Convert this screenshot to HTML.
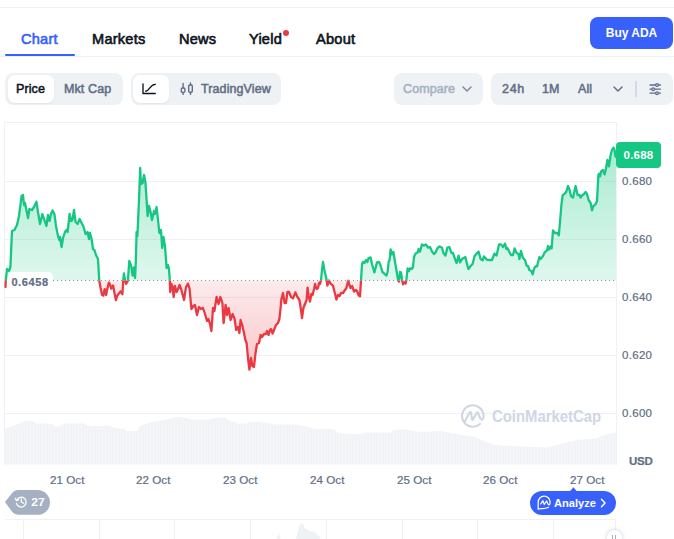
<!DOCTYPE html>
<html><head><meta charset="utf-8"><title>ADA chart</title>
<style>
html,body{margin:0;padding:0;background:#fff;}
body{width:674px;height:539px;position:relative;overflow:hidden;font-family:"Liberation Sans",sans-serif;}
.abs{position:absolute;}
.tab{position:absolute;top:30px;font-size:14.6px;font-weight:400;-webkit-text-stroke-width:0.62px;color:#0d1421;line-height:18px;white-space:nowrap;letter-spacing:0.22px;}
.pill{position:absolute;background:#eff2f5;border-radius:8px;top:73px;height:32px;}
.sel{position:absolute;background:#fff;border-radius:7px;top:75px;height:28px;box-shadow:0 1px 2px rgba(88,102,126,.10);}
.t12{position:absolute;font-size:12.5px;font-weight:400;-webkit-text-stroke-width:0.52px;line-height:14px;white-space:nowrap;color:#616e85;letter-spacing:0.1px;}
.ax{position:absolute;font-size:11.5px;line-height:14px;color:#616e85;white-space:nowrap;letter-spacing:0.3px;-webkit-text-stroke-width:0.2px;}
.dt{letter-spacing:0.05px;font-size:11.6px}
</style></head><body>
<!-- top line -->
<div class="abs" style="left:0;top:7px;width:674px;height:1px;background:#eff2f5"></div>
<!-- tabs -->
<div class="tab" style="left:21px;color:#3861fb">Chart</div>
<div class="tab" style="left:92px">Markets</div>
<div class="tab" style="left:179px">News</div>
<div class="tab" style="left:249px">Yield</div>
<div class="abs" style="left:283px;top:30px;width:6px;height:6px;border-radius:3px;background:#ea3943"></div>
<div class="tab" style="left:316px">About</div>
<div class="abs" style="left:0;top:56px;width:674px;height:1px;background:#eff2f5"></div>
<div class="abs" style="left:5px;top:54px;width:70px;height:2px;background:#3861fb;border-radius:1px"></div>
<!-- buy button -->
<div class="abs" style="left:590px;top:17px;width:83px;height:32px;border-radius:8px;background:#3861fb;color:#fff;font-weight:700;font-size:12px;line-height:32px;text-align:center;letter-spacing:0">Buy ADA</div>

<!-- row 2 -->
<div class="pill" style="left:5px;width:118px"></div>
<div class="sel" style="left:8px;width:46px"></div>
<div class="t12" style="left:16px;top:82px;color:#0d1421">Price</div>
<div class="t12" style="left:64px;top:82px">Mkt Cap</div>

<div class="pill" style="left:131px;width:150px"></div>
<div class="sel" style="left:133px;width:36px"></div>
<svg class="abs" style="left:141px;top:82px" width="18" height="14" viewBox="0 0 18 14"><path d="M2,2 V11.5 H14.3" fill="none" stroke="#0d1421" stroke-width="1.35" stroke-linecap="round" stroke-linejoin="round"/><path d="M4.7,9.2 C8.8,9.2 8.6,2.4 14.3,2.3" fill="none" stroke="#0d1421" stroke-width="1.35" stroke-linecap="round"/></svg>
<svg class="abs" style="left:180px;top:82px" width="14" height="14" viewBox="0 0 14 14"><g fill="none" stroke="#616e85" stroke-width="1.4" stroke-linecap="round"><path d="M3.1,1.4V6M3.1,10.4V12.4M10.5,1V3M10.5,10.3V12.4"/><rect x="1.3" y="6" width="3.6" height="4.4" rx="1.1"/><rect x="8.7" y="3" width="3.6" height="7.3" rx="1.1"/></g></svg>
<div class="t12" style="left:201px;top:82px">TradingView</div>

<div class="pill" style="left:394px;width:89px"></div>
<div class="t12" style="left:403px;top:82px;color:#a6b0c3">Compare</div>
<svg class="abs" style="left:461px;top:84px" width="12" height="10" viewBox="0 0 12 10"><path d="M2,3 L6,7 L10,3" fill="none" stroke="#808a9d" stroke-width="1.5" stroke-linecap="round" stroke-linejoin="round"/></svg>

<div class="pill" style="left:491px;width:182px"></div>
<div class="t12" style="left:502px;top:82px;letter-spacing:0.7px">24h</div>
<div class="t12" style="left:542px;top:82px">1M</div>
<div class="t12" style="left:578px;top:82px">All</div>
<svg class="abs" style="left:612px;top:84px" width="12" height="10" viewBox="0 0 12 10"><path d="M2,3 L6,7 L10,3" fill="none" stroke="#616e85" stroke-width="1.5" stroke-linecap="round" stroke-linejoin="round"/></svg>
<div class="abs" style="left:635px;top:81px;width:2px;height:15.5px;background:#d3d9e6"></div>
<svg class="abs" style="left:647.6px;top:82px" width="14" height="14" viewBox="0 0 14 14"><g fill="none" stroke="#616e85" stroke-width="1.3" stroke-linecap="round"><path d="M2,3H12.4M2,7.2H12.4M2,11.2H12.4"/><circle cx="9" cy="3" r="1.35" fill="#eff2f5"/><circle cx="5.2" cy="7.2" r="1.35" fill="#eff2f5"/><circle cx="9" cy="11.2" r="1.35" fill="#eff2f5"/></g></svg>

<!-- chart -->
<svg class="abs" style="left:0;top:0" width="674" height="539" viewBox="0 0 674 539">
<defs>
<linearGradient id="gg" gradientUnits="userSpaceOnUse" x1="0" y1="145" x2="0" y2="280.4"><stop offset="0" stop-color="#16c784" stop-opacity="0.37"/><stop offset="1" stop-color="#16c784" stop-opacity="0.135"/></linearGradient>
<linearGradient id="rg" gradientUnits="userSpaceOnUse" x1="0" y1="280.4" x2="0" y2="372"><stop offset="0" stop-color="#ea3943" stop-opacity="0.10"/><stop offset="1" stop-color="#ea3943" stop-opacity="0.29"/></linearGradient>
<clipPath id="up"><rect x="0" y="100" width="674" height="180.39999999999998"/></clipPath>
<clipPath id="dn"><rect x="0" y="280.4" width="674" height="200"/></clipPath>
<pattern id="vs" width="3" height="8" patternUnits="userSpaceOnUse"><rect x="0" y="0" width="1" height="8" fill="#fff" opacity="0.22"/></pattern>
</defs>
<!-- grid -->
<g stroke="#eff2f5" stroke-width="1" shape-rendering="crispEdges">
<line x1="4.5" y1="122.5" x2="617" y2="122.5"/>
<line x1="4.5" y1="181.5" x2="617" y2="181.5"/>
<line x1="4.5" y1="239.5" x2="617" y2="239.5"/>
<line x1="4.5" y1="297.5" x2="617" y2="297.5"/>
<line x1="4.5" y1="355.5" x2="617" y2="355.5"/>
<line x1="4.5" y1="413.5" x2="617" y2="413.5"/>
<line x1="4.5" y1="122" x2="4.5" y2="465"/>
<line x1="616.5" y1="122" x2="616.5" y2="465"/>
</g>
<!-- watermark -->
<g opacity="1">
<path d="M479.96,423.95 A10.7,10.7 0 1 1 483.49,416.56 C483.4,420.4 480.8,420.6 480,417.8 L478.2,413.2 Q477.6,411.6 476.6,413.2 L472.9,419.6 Q472.3,420.4 472,419.2 L471,412.6 Q470.6,411 469.6,412.6 L464.8,421.4" fill="none" stroke="#cfd6e4" stroke-width="2.1" stroke-linecap="round" stroke-linejoin="round"/>
<text x="492" y="422.3" font-family="Liberation Sans, sans-serif" font-weight="700" font-size="16.2" fill="#cfd6e4" textLength="109" lengthAdjust="spacingAndGlyphs">CoinMarketCap</text>
</g>
<!-- volume -->
<path d="M5.0,428.6 L6.0,428.4 L16.7,424.4 L25.0,421.0 L33.4,421.0 L35.0,423.4 L50.0,423.4 L56.7,426.7 L60.0,425.7 L65.0,423.4 L83.4,423.4 L88.4,426.0 L103.5,426.0 L106.8,425.0 L115.0,427.7 L125.0,429.4 L126.8,431.0 L136.8,431.0 L140.0,426.0 L150.0,422.4 L160.0,420.7 L170.0,418.4 L178.6,416.7 L185.0,417.7 L192.0,419.4 L207.0,419.4 L217.0,417.7 L225.0,417.7 L230.0,420.7 L238.4,423.4 L246.7,423.4 L250.0,421.7 L258.4,421.7 L265.0,422.7 L276.7,424.4 L296.8,424.4 L301.8,426.0 L308.5,426.7 L315.0,429.0 L333.5,429.0 L338.5,432.4 L346.8,434.0 L361.9,434.0 L365.2,432.4 L390.2,432.4 L393.6,430.0 L406.9,429.4 L413.6,431.0 L417.0,431.7 L430.0,431.7 L440.0,431.0 L448.4,432.4 L458.4,434.4 L475.0,436.7 L483.4,441.0 L493.4,444.4 L503.4,445.7 L546.8,447.4 L556.8,445.0 L566.8,442.4 L576.9,440.0 L596.9,438.4 L603.6,435.0 L615.2,432.4 L616.5,432.2 L616.5,464.5 L5,464.5 Z" fill="#eff2f5" opacity="0.9"/>
<path d="M5.0,428.6 L6.0,428.4 L16.7,424.4 L25.0,421.0 L33.4,421.0 L35.0,423.4 L50.0,423.4 L56.7,426.7 L60.0,425.7 L65.0,423.4 L83.4,423.4 L88.4,426.0 L103.5,426.0 L106.8,425.0 L115.0,427.7 L125.0,429.4 L126.8,431.0 L136.8,431.0 L140.0,426.0 L150.0,422.4 L160.0,420.7 L170.0,418.4 L178.6,416.7 L185.0,417.7 L192.0,419.4 L207.0,419.4 L217.0,417.7 L225.0,417.7 L230.0,420.7 L238.4,423.4 L246.7,423.4 L250.0,421.7 L258.4,421.7 L265.0,422.7 L276.7,424.4 L296.8,424.4 L301.8,426.0 L308.5,426.7 L315.0,429.0 L333.5,429.0 L338.5,432.4 L346.8,434.0 L361.9,434.0 L365.2,432.4 L390.2,432.4 L393.6,430.0 L406.9,429.4 L413.6,431.0 L417.0,431.7 L430.0,431.7 L440.0,431.0 L448.4,432.4 L458.4,434.4 L475.0,436.7 L483.4,441.0 L493.4,444.4 L503.4,445.7 L546.8,447.4 L556.8,445.0 L566.8,442.4 L576.9,440.0 L596.9,438.4 L603.6,435.0 L615.2,432.4 L616.5,432.2 L616.5,464.5 L5,464.5 Z" fill="url(#vs)"/>
<!-- area fills -->
<path d="M5.5,287.0 L5.8,280.0 L7.0,269.0 L9.0,271.0 L10.4,267.0 L12.0,231.0 L14.4,230.0 L17.0,225.0 L19.0,216.0 L21.6,196.0 L23.0,195.0 L24.0,205.0 L25.0,203.0 L28.0,218.0 L29.4,209.0 L32.0,210.0 L34.0,207.0 L36.4,201.6 L38.0,212.0 L40.0,224.0 L42.4,214.0 L44.4,220.0 L46.4,226.0 L48.0,215.0 L49.6,221.0 L51.0,214.0 L52.6,210.4 L54.4,214.0 L56.0,226.0 L58.0,236.0 L59.4,240.0 L60.0,237.0 L61.6,247.0 L63.0,238.0 L65.0,232.0 L66.4,230.0 L67.6,232.0 L69.6,214.0 L71.0,221.0 L72.4,220.0 L74.0,210.0 L75.6,222.0 L77.6,224.0 L79.6,219.0 L81.6,223.0 L83.6,227.0 L85.6,234.0 L87.6,232.0 L89.0,239.0 L90.0,233.0 L91.6,239.0 L93.0,249.0 L94.4,250.0 L96.0,255.0 L98.0,259.0 L99.2,280.3 L100.6,288.0 L102.0,294.7 L103.3,295.6 L104.7,289.1 L106.1,295.1 L107.5,288.0 L108.9,282.6 L110.0,284.5 L111.2,288.6 L113.1,285.4 L114.5,293.0 L115.9,300.2 L117.3,295.6 L119.6,292.8 L120.5,291.4 L122.4,294.2 L122.9,286.0 L123.3,280.3 L123.9,273.3 L125.1,280.3 L126.1,284.0 L127.9,280.8 L129.3,260.8 L131.2,265.9 L132.6,275.7 L134.0,267.3 L135.1,278.0 L135.8,262.0 L136.6,232.0 L137.4,236.0 L139.0,200.0 L140.2,168.0 L141.0,184.0 L142.6,183.0 L144.0,175.0 L145.4,182.0 L146.6,200.0 L147.6,216.0 L149.0,206.0 L150.6,212.0 L152.0,220.0 L154.0,211.0 L155.0,214.0 L156.6,207.0 L158.0,220.0 L159.4,233.0 L161.0,230.0 L162.2,248.0 L163.4,237.0 L165.0,246.0 L166.6,268.0 L168.0,265.0 L169.0,269.0 L169.8,280.4 L170.2,292.0 L171.4,284.0 L172.6,287.0 L173.6,297.0 L175.0,286.0 L176.6,292.0 L178.0,289.0 L179.6,285.0 L181.4,290.0 L184.0,300.0 L186.0,287.0 L188.0,283.6 L189.6,289.0 L191.4,309.0 L193.4,306.0 L195.0,305.0 L197.0,315.0 L199.0,307.0 L201.0,309.0 L203.0,308.0 L205.0,314.0 L207.0,321.0 L208.4,319.0 L210.0,324.0 L211.4,331.0 L213.0,308.0 L214.4,311.0 L216.6,297.0 L218.6,304.0 L220.4,297.0 L222.4,303.0 L223.6,323.0 L225.6,305.0 L227.0,315.0 L228.6,308.0 L230.6,320.0 L232.6,314.0 L234.6,319.0 L236.2,330.0 L238.0,327.0 L239.4,333.0 L240.6,320.0 L242.2,325.0 L244.0,333.0 L245.4,340.0 L246.6,343.0 L248.0,358.0 L249.4,369.6 L251.0,358.0 L252.4,366.0 L254.0,367.0 L255.4,354.0 L257.0,344.0 L259.0,343.0 L260.6,335.0 L262.0,337.0 L264.0,334.0 L266.0,334.0 L267.0,331.0 L268.6,335.0 L270.0,330.0 L271.0,329.0 L272.6,333.6 L274.0,330.0 L276.0,325.0 L278.0,323.0 L279.4,319.0 L280.6,308.0 L281.4,299.0 L283.0,293.0 L284.6,303.0 L286.0,303.0 L287.4,292.0 L289.0,292.0 L291.0,297.0 L293.0,298.4 L295.4,292.4 L297.4,297.0 L299.4,300.0 L301.0,310.0 L302.0,318.0 L303.4,308.0 L305.4,303.0 L306.6,300.0 L307.6,287.6 L308.6,296.0 L310.0,301.6 L311.4,294.0 L312.6,295.0 L314.0,289.0 L315.0,284.0 L316.6,289.0 L318.0,288.0 L319.0,283.0 L320.0,284.0 L321.0,280.0 L322.0,270.0 L323.0,262.0 L324.4,270.0 L326.6,280.0 L327.4,285.6 L328.8,280.4 L330.6,283.6 L333.0,285.6 L334.6,292.0 L336.4,299.5 L338.0,295.0 L339.6,296.0 L341.0,293.0 L343.0,293.0 L345.0,290.0 L346.4,288.0 L348.2,280.6 L349.4,285.0 L350.6,288.0 L352.2,286.0 L354.0,291.6 L355.6,290.0 L357.0,291.0 L358.6,295.4 L360.0,296.4 L361.0,280.4 L362.0,264.0 L363.0,262.0 L364.4,263.0 L366.0,260.0 L367.4,262.0 L368.6,258.0 L370.6,257.4 L372.0,264.0 L374.4,272.4 L377.0,262.4 L379.0,262.0 L380.4,265.0 L382.4,272.0 L384.4,273.6 L386.4,275.6 L387.6,272.0 L388.6,262.0 L389.6,260.0 L390.6,249.4 L392.0,254.4 L393.4,252.0 L395.0,262.0 L396.6,271.0 L398.0,280.0 L399.0,281.6 L400.0,272.0 L401.0,272.4 L402.0,279.0 L403.0,284.4 L404.4,282.4 L405.6,283.6 L406.4,280.0 L407.6,268.4 L409.0,271.0 L410.0,268.4 L411.6,269.0 L413.0,267.0 L414.0,257.0 L415.6,253.6 L417.6,252.4 L418.6,249.0 L420.0,251.6 L422.0,244.4 L424.0,245.6 L426.0,244.4 L428.0,247.6 L430.0,247.0 L432.0,251.6 L434.0,254.0 L435.6,252.4 L437.6,248.0 L439.6,246.4 L442.0,247.8 L443.4,253.0 L445.4,255.6 L447.4,247.6 L449.4,247.0 L451.4,253.0 L453.0,253.0 L455.0,259.0 L456.6,263.0 L458.6,255.6 L460.0,262.4 L462.0,259.0 L465.4,257.0 L467.0,264.0 L468.4,269.0 L470.6,266.0 L472.6,264.0 L474.6,256.0 L476.6,253.6 L478.6,251.6 L480.6,259.0 L482.6,260.4 L484.0,256.4 L486.6,259.6 L489.4,260.0 L492.0,260.0 L494.4,253.6 L496.6,255.6 L499.0,244.4 L501.0,244.4 L503.0,247.0 L505.0,243.6 L506.4,249.0 L507.4,248.0 L509.4,252.0 L511.0,255.0 L513.0,255.0 L514.6,248.4 L516.6,253.0 L518.6,254.0 L519.4,259.0 L521.0,251.0 L523.0,258.0 L525.0,260.0 L526.6,265.6 L528.0,266.0 L529.4,270.0 L531.4,271.0 L532.6,274.4 L534.4,268.0 L535.4,266.4 L537.0,266.4 L539.4,257.0 L540.6,259.0 L543.0,256.0 L544.6,252.4 L547.0,250.4 L548.0,246.0 L549.0,249.6 L550.6,246.4 L551.6,248.4 L553.0,230.4 L555.0,233.0 L557.4,233.0 L558.8,235.4 L560.0,222.0 L561.4,205.0 L562.6,195.4 L566.0,192.4 L568.0,186.0 L569.6,190.0 L571.0,196.0 L573.0,197.6 L575.6,186.0 L577.6,195.0 L579.6,195.0 L580.6,197.6 L582.0,195.6 L584.0,194.0 L585.6,192.0 L587.0,194.0 L588.6,200.0 L590.6,203.0 L592.0,210.4 L593.4,206.0 L595.4,204.4 L597.0,201.0 L598.4,175.0 L599.0,173.6 L600.0,176.4 L601.4,171.0 L603.0,170.0 L604.6,174.4 L606.0,168.4 L607.4,160.0 L609.0,166.4 L610.6,155.0 L612.0,150.0 L613.4,147.6 L614.6,150.0 L615.4,156.0 L616.0,157.0 L616,280.4 L5.5,280.4 Z" fill="url(#gg)" clip-path="url(#up)"/>
<path d="M5.5,287.0 L5.8,280.0 L7.0,269.0 L9.0,271.0 L10.4,267.0 L12.0,231.0 L14.4,230.0 L17.0,225.0 L19.0,216.0 L21.6,196.0 L23.0,195.0 L24.0,205.0 L25.0,203.0 L28.0,218.0 L29.4,209.0 L32.0,210.0 L34.0,207.0 L36.4,201.6 L38.0,212.0 L40.0,224.0 L42.4,214.0 L44.4,220.0 L46.4,226.0 L48.0,215.0 L49.6,221.0 L51.0,214.0 L52.6,210.4 L54.4,214.0 L56.0,226.0 L58.0,236.0 L59.4,240.0 L60.0,237.0 L61.6,247.0 L63.0,238.0 L65.0,232.0 L66.4,230.0 L67.6,232.0 L69.6,214.0 L71.0,221.0 L72.4,220.0 L74.0,210.0 L75.6,222.0 L77.6,224.0 L79.6,219.0 L81.6,223.0 L83.6,227.0 L85.6,234.0 L87.6,232.0 L89.0,239.0 L90.0,233.0 L91.6,239.0 L93.0,249.0 L94.4,250.0 L96.0,255.0 L98.0,259.0 L99.2,280.3 L100.6,288.0 L102.0,294.7 L103.3,295.6 L104.7,289.1 L106.1,295.1 L107.5,288.0 L108.9,282.6 L110.0,284.5 L111.2,288.6 L113.1,285.4 L114.5,293.0 L115.9,300.2 L117.3,295.6 L119.6,292.8 L120.5,291.4 L122.4,294.2 L122.9,286.0 L123.3,280.3 L123.9,273.3 L125.1,280.3 L126.1,284.0 L127.9,280.8 L129.3,260.8 L131.2,265.9 L132.6,275.7 L134.0,267.3 L135.1,278.0 L135.8,262.0 L136.6,232.0 L137.4,236.0 L139.0,200.0 L140.2,168.0 L141.0,184.0 L142.6,183.0 L144.0,175.0 L145.4,182.0 L146.6,200.0 L147.6,216.0 L149.0,206.0 L150.6,212.0 L152.0,220.0 L154.0,211.0 L155.0,214.0 L156.6,207.0 L158.0,220.0 L159.4,233.0 L161.0,230.0 L162.2,248.0 L163.4,237.0 L165.0,246.0 L166.6,268.0 L168.0,265.0 L169.0,269.0 L169.8,280.4 L170.2,292.0 L171.4,284.0 L172.6,287.0 L173.6,297.0 L175.0,286.0 L176.6,292.0 L178.0,289.0 L179.6,285.0 L181.4,290.0 L184.0,300.0 L186.0,287.0 L188.0,283.6 L189.6,289.0 L191.4,309.0 L193.4,306.0 L195.0,305.0 L197.0,315.0 L199.0,307.0 L201.0,309.0 L203.0,308.0 L205.0,314.0 L207.0,321.0 L208.4,319.0 L210.0,324.0 L211.4,331.0 L213.0,308.0 L214.4,311.0 L216.6,297.0 L218.6,304.0 L220.4,297.0 L222.4,303.0 L223.6,323.0 L225.6,305.0 L227.0,315.0 L228.6,308.0 L230.6,320.0 L232.6,314.0 L234.6,319.0 L236.2,330.0 L238.0,327.0 L239.4,333.0 L240.6,320.0 L242.2,325.0 L244.0,333.0 L245.4,340.0 L246.6,343.0 L248.0,358.0 L249.4,369.6 L251.0,358.0 L252.4,366.0 L254.0,367.0 L255.4,354.0 L257.0,344.0 L259.0,343.0 L260.6,335.0 L262.0,337.0 L264.0,334.0 L266.0,334.0 L267.0,331.0 L268.6,335.0 L270.0,330.0 L271.0,329.0 L272.6,333.6 L274.0,330.0 L276.0,325.0 L278.0,323.0 L279.4,319.0 L280.6,308.0 L281.4,299.0 L283.0,293.0 L284.6,303.0 L286.0,303.0 L287.4,292.0 L289.0,292.0 L291.0,297.0 L293.0,298.4 L295.4,292.4 L297.4,297.0 L299.4,300.0 L301.0,310.0 L302.0,318.0 L303.4,308.0 L305.4,303.0 L306.6,300.0 L307.6,287.6 L308.6,296.0 L310.0,301.6 L311.4,294.0 L312.6,295.0 L314.0,289.0 L315.0,284.0 L316.6,289.0 L318.0,288.0 L319.0,283.0 L320.0,284.0 L321.0,280.0 L322.0,270.0 L323.0,262.0 L324.4,270.0 L326.6,280.0 L327.4,285.6 L328.8,280.4 L330.6,283.6 L333.0,285.6 L334.6,292.0 L336.4,299.5 L338.0,295.0 L339.6,296.0 L341.0,293.0 L343.0,293.0 L345.0,290.0 L346.4,288.0 L348.2,280.6 L349.4,285.0 L350.6,288.0 L352.2,286.0 L354.0,291.6 L355.6,290.0 L357.0,291.0 L358.6,295.4 L360.0,296.4 L361.0,280.4 L362.0,264.0 L363.0,262.0 L364.4,263.0 L366.0,260.0 L367.4,262.0 L368.6,258.0 L370.6,257.4 L372.0,264.0 L374.4,272.4 L377.0,262.4 L379.0,262.0 L380.4,265.0 L382.4,272.0 L384.4,273.6 L386.4,275.6 L387.6,272.0 L388.6,262.0 L389.6,260.0 L390.6,249.4 L392.0,254.4 L393.4,252.0 L395.0,262.0 L396.6,271.0 L398.0,280.0 L399.0,281.6 L400.0,272.0 L401.0,272.4 L402.0,279.0 L403.0,284.4 L404.4,282.4 L405.6,283.6 L406.4,280.0 L407.6,268.4 L409.0,271.0 L410.0,268.4 L411.6,269.0 L413.0,267.0 L414.0,257.0 L415.6,253.6 L417.6,252.4 L418.6,249.0 L420.0,251.6 L422.0,244.4 L424.0,245.6 L426.0,244.4 L428.0,247.6 L430.0,247.0 L432.0,251.6 L434.0,254.0 L435.6,252.4 L437.6,248.0 L439.6,246.4 L442.0,247.8 L443.4,253.0 L445.4,255.6 L447.4,247.6 L449.4,247.0 L451.4,253.0 L453.0,253.0 L455.0,259.0 L456.6,263.0 L458.6,255.6 L460.0,262.4 L462.0,259.0 L465.4,257.0 L467.0,264.0 L468.4,269.0 L470.6,266.0 L472.6,264.0 L474.6,256.0 L476.6,253.6 L478.6,251.6 L480.6,259.0 L482.6,260.4 L484.0,256.4 L486.6,259.6 L489.4,260.0 L492.0,260.0 L494.4,253.6 L496.6,255.6 L499.0,244.4 L501.0,244.4 L503.0,247.0 L505.0,243.6 L506.4,249.0 L507.4,248.0 L509.4,252.0 L511.0,255.0 L513.0,255.0 L514.6,248.4 L516.6,253.0 L518.6,254.0 L519.4,259.0 L521.0,251.0 L523.0,258.0 L525.0,260.0 L526.6,265.6 L528.0,266.0 L529.4,270.0 L531.4,271.0 L532.6,274.4 L534.4,268.0 L535.4,266.4 L537.0,266.4 L539.4,257.0 L540.6,259.0 L543.0,256.0 L544.6,252.4 L547.0,250.4 L548.0,246.0 L549.0,249.6 L550.6,246.4 L551.6,248.4 L553.0,230.4 L555.0,233.0 L557.4,233.0 L558.8,235.4 L560.0,222.0 L561.4,205.0 L562.6,195.4 L566.0,192.4 L568.0,186.0 L569.6,190.0 L571.0,196.0 L573.0,197.6 L575.6,186.0 L577.6,195.0 L579.6,195.0 L580.6,197.6 L582.0,195.6 L584.0,194.0 L585.6,192.0 L587.0,194.0 L588.6,200.0 L590.6,203.0 L592.0,210.4 L593.4,206.0 L595.4,204.4 L597.0,201.0 L598.4,175.0 L599.0,173.6 L600.0,176.4 L601.4,171.0 L603.0,170.0 L604.6,174.4 L606.0,168.4 L607.4,160.0 L609.0,166.4 L610.6,155.0 L612.0,150.0 L613.4,147.6 L614.6,150.0 L615.4,156.0 L616.0,157.0 L616,280.4 L5.5,280.4 Z" fill="url(#rg)" clip-path="url(#dn)"/>
<!-- baseline dotted -->
<line x1="5" y1="280.4" x2="617" y2="280.4" stroke="#808a9d" stroke-width="1" stroke-dasharray="1 3"/>
<!-- line -->
<path d="M5.5,287.0 L5.8,280.0 L7.0,269.0 L9.0,271.0 L10.4,267.0 L12.0,231.0 L14.4,230.0 L17.0,225.0 L19.0,216.0 L21.6,196.0 L23.0,195.0 L24.0,205.0 L25.0,203.0 L28.0,218.0 L29.4,209.0 L32.0,210.0 L34.0,207.0 L36.4,201.6 L38.0,212.0 L40.0,224.0 L42.4,214.0 L44.4,220.0 L46.4,226.0 L48.0,215.0 L49.6,221.0 L51.0,214.0 L52.6,210.4 L54.4,214.0 L56.0,226.0 L58.0,236.0 L59.4,240.0 L60.0,237.0 L61.6,247.0 L63.0,238.0 L65.0,232.0 L66.4,230.0 L67.6,232.0 L69.6,214.0 L71.0,221.0 L72.4,220.0 L74.0,210.0 L75.6,222.0 L77.6,224.0 L79.6,219.0 L81.6,223.0 L83.6,227.0 L85.6,234.0 L87.6,232.0 L89.0,239.0 L90.0,233.0 L91.6,239.0 L93.0,249.0 L94.4,250.0 L96.0,255.0 L98.0,259.0 L99.2,280.3 L100.6,288.0 L102.0,294.7 L103.3,295.6 L104.7,289.1 L106.1,295.1 L107.5,288.0 L108.9,282.6 L110.0,284.5 L111.2,288.6 L113.1,285.4 L114.5,293.0 L115.9,300.2 L117.3,295.6 L119.6,292.8 L120.5,291.4 L122.4,294.2 L122.9,286.0 L123.3,280.3 L123.9,273.3 L125.1,280.3 L126.1,284.0 L127.9,280.8 L129.3,260.8 L131.2,265.9 L132.6,275.7 L134.0,267.3 L135.1,278.0 L135.8,262.0 L136.6,232.0 L137.4,236.0 L139.0,200.0 L140.2,168.0 L141.0,184.0 L142.6,183.0 L144.0,175.0 L145.4,182.0 L146.6,200.0 L147.6,216.0 L149.0,206.0 L150.6,212.0 L152.0,220.0 L154.0,211.0 L155.0,214.0 L156.6,207.0 L158.0,220.0 L159.4,233.0 L161.0,230.0 L162.2,248.0 L163.4,237.0 L165.0,246.0 L166.6,268.0 L168.0,265.0 L169.0,269.0 L169.8,280.4 L170.2,292.0 L171.4,284.0 L172.6,287.0 L173.6,297.0 L175.0,286.0 L176.6,292.0 L178.0,289.0 L179.6,285.0 L181.4,290.0 L184.0,300.0 L186.0,287.0 L188.0,283.6 L189.6,289.0 L191.4,309.0 L193.4,306.0 L195.0,305.0 L197.0,315.0 L199.0,307.0 L201.0,309.0 L203.0,308.0 L205.0,314.0 L207.0,321.0 L208.4,319.0 L210.0,324.0 L211.4,331.0 L213.0,308.0 L214.4,311.0 L216.6,297.0 L218.6,304.0 L220.4,297.0 L222.4,303.0 L223.6,323.0 L225.6,305.0 L227.0,315.0 L228.6,308.0 L230.6,320.0 L232.6,314.0 L234.6,319.0 L236.2,330.0 L238.0,327.0 L239.4,333.0 L240.6,320.0 L242.2,325.0 L244.0,333.0 L245.4,340.0 L246.6,343.0 L248.0,358.0 L249.4,369.6 L251.0,358.0 L252.4,366.0 L254.0,367.0 L255.4,354.0 L257.0,344.0 L259.0,343.0 L260.6,335.0 L262.0,337.0 L264.0,334.0 L266.0,334.0 L267.0,331.0 L268.6,335.0 L270.0,330.0 L271.0,329.0 L272.6,333.6 L274.0,330.0 L276.0,325.0 L278.0,323.0 L279.4,319.0 L280.6,308.0 L281.4,299.0 L283.0,293.0 L284.6,303.0 L286.0,303.0 L287.4,292.0 L289.0,292.0 L291.0,297.0 L293.0,298.4 L295.4,292.4 L297.4,297.0 L299.4,300.0 L301.0,310.0 L302.0,318.0 L303.4,308.0 L305.4,303.0 L306.6,300.0 L307.6,287.6 L308.6,296.0 L310.0,301.6 L311.4,294.0 L312.6,295.0 L314.0,289.0 L315.0,284.0 L316.6,289.0 L318.0,288.0 L319.0,283.0 L320.0,284.0 L321.0,280.0 L322.0,270.0 L323.0,262.0 L324.4,270.0 L326.6,280.0 L327.4,285.6 L328.8,280.4 L330.6,283.6 L333.0,285.6 L334.6,292.0 L336.4,299.5 L338.0,295.0 L339.6,296.0 L341.0,293.0 L343.0,293.0 L345.0,290.0 L346.4,288.0 L348.2,280.6 L349.4,285.0 L350.6,288.0 L352.2,286.0 L354.0,291.6 L355.6,290.0 L357.0,291.0 L358.6,295.4 L360.0,296.4 L361.0,280.4 L362.0,264.0 L363.0,262.0 L364.4,263.0 L366.0,260.0 L367.4,262.0 L368.6,258.0 L370.6,257.4 L372.0,264.0 L374.4,272.4 L377.0,262.4 L379.0,262.0 L380.4,265.0 L382.4,272.0 L384.4,273.6 L386.4,275.6 L387.6,272.0 L388.6,262.0 L389.6,260.0 L390.6,249.4 L392.0,254.4 L393.4,252.0 L395.0,262.0 L396.6,271.0 L398.0,280.0 L399.0,281.6 L400.0,272.0 L401.0,272.4 L402.0,279.0 L403.0,284.4 L404.4,282.4 L405.6,283.6 L406.4,280.0 L407.6,268.4 L409.0,271.0 L410.0,268.4 L411.6,269.0 L413.0,267.0 L414.0,257.0 L415.6,253.6 L417.6,252.4 L418.6,249.0 L420.0,251.6 L422.0,244.4 L424.0,245.6 L426.0,244.4 L428.0,247.6 L430.0,247.0 L432.0,251.6 L434.0,254.0 L435.6,252.4 L437.6,248.0 L439.6,246.4 L442.0,247.8 L443.4,253.0 L445.4,255.6 L447.4,247.6 L449.4,247.0 L451.4,253.0 L453.0,253.0 L455.0,259.0 L456.6,263.0 L458.6,255.6 L460.0,262.4 L462.0,259.0 L465.4,257.0 L467.0,264.0 L468.4,269.0 L470.6,266.0 L472.6,264.0 L474.6,256.0 L476.6,253.6 L478.6,251.6 L480.6,259.0 L482.6,260.4 L484.0,256.4 L486.6,259.6 L489.4,260.0 L492.0,260.0 L494.4,253.6 L496.6,255.6 L499.0,244.4 L501.0,244.4 L503.0,247.0 L505.0,243.6 L506.4,249.0 L507.4,248.0 L509.4,252.0 L511.0,255.0 L513.0,255.0 L514.6,248.4 L516.6,253.0 L518.6,254.0 L519.4,259.0 L521.0,251.0 L523.0,258.0 L525.0,260.0 L526.6,265.6 L528.0,266.0 L529.4,270.0 L531.4,271.0 L532.6,274.4 L534.4,268.0 L535.4,266.4 L537.0,266.4 L539.4,257.0 L540.6,259.0 L543.0,256.0 L544.6,252.4 L547.0,250.4 L548.0,246.0 L549.0,249.6 L550.6,246.4 L551.6,248.4 L553.0,230.4 L555.0,233.0 L557.4,233.0 L558.8,235.4 L560.0,222.0 L561.4,205.0 L562.6,195.4 L566.0,192.4 L568.0,186.0 L569.6,190.0 L571.0,196.0 L573.0,197.6 L575.6,186.0 L577.6,195.0 L579.6,195.0 L580.6,197.6 L582.0,195.6 L584.0,194.0 L585.6,192.0 L587.0,194.0 L588.6,200.0 L590.6,203.0 L592.0,210.4 L593.4,206.0 L595.4,204.4 L597.0,201.0 L598.4,175.0 L599.0,173.6 L600.0,176.4 L601.4,171.0 L603.0,170.0 L604.6,174.4 L606.0,168.4 L607.4,160.0 L609.0,166.4 L610.6,155.0 L612.0,150.0 L613.4,147.6 L614.6,150.0 L615.4,156.0 L616.0,157.0" fill="none" stroke="#16c784" stroke-width="2.3" stroke-linejoin="round" stroke-linecap="round" clip-path="url(#up)"/>
<path d="M5.5,287.0 L5.8,280.0 L7.0,269.0 L9.0,271.0 L10.4,267.0 L12.0,231.0 L14.4,230.0 L17.0,225.0 L19.0,216.0 L21.6,196.0 L23.0,195.0 L24.0,205.0 L25.0,203.0 L28.0,218.0 L29.4,209.0 L32.0,210.0 L34.0,207.0 L36.4,201.6 L38.0,212.0 L40.0,224.0 L42.4,214.0 L44.4,220.0 L46.4,226.0 L48.0,215.0 L49.6,221.0 L51.0,214.0 L52.6,210.4 L54.4,214.0 L56.0,226.0 L58.0,236.0 L59.4,240.0 L60.0,237.0 L61.6,247.0 L63.0,238.0 L65.0,232.0 L66.4,230.0 L67.6,232.0 L69.6,214.0 L71.0,221.0 L72.4,220.0 L74.0,210.0 L75.6,222.0 L77.6,224.0 L79.6,219.0 L81.6,223.0 L83.6,227.0 L85.6,234.0 L87.6,232.0 L89.0,239.0 L90.0,233.0 L91.6,239.0 L93.0,249.0 L94.4,250.0 L96.0,255.0 L98.0,259.0 L99.2,280.3 L100.6,288.0 L102.0,294.7 L103.3,295.6 L104.7,289.1 L106.1,295.1 L107.5,288.0 L108.9,282.6 L110.0,284.5 L111.2,288.6 L113.1,285.4 L114.5,293.0 L115.9,300.2 L117.3,295.6 L119.6,292.8 L120.5,291.4 L122.4,294.2 L122.9,286.0 L123.3,280.3 L123.9,273.3 L125.1,280.3 L126.1,284.0 L127.9,280.8 L129.3,260.8 L131.2,265.9 L132.6,275.7 L134.0,267.3 L135.1,278.0 L135.8,262.0 L136.6,232.0 L137.4,236.0 L139.0,200.0 L140.2,168.0 L141.0,184.0 L142.6,183.0 L144.0,175.0 L145.4,182.0 L146.6,200.0 L147.6,216.0 L149.0,206.0 L150.6,212.0 L152.0,220.0 L154.0,211.0 L155.0,214.0 L156.6,207.0 L158.0,220.0 L159.4,233.0 L161.0,230.0 L162.2,248.0 L163.4,237.0 L165.0,246.0 L166.6,268.0 L168.0,265.0 L169.0,269.0 L169.8,280.4 L170.2,292.0 L171.4,284.0 L172.6,287.0 L173.6,297.0 L175.0,286.0 L176.6,292.0 L178.0,289.0 L179.6,285.0 L181.4,290.0 L184.0,300.0 L186.0,287.0 L188.0,283.6 L189.6,289.0 L191.4,309.0 L193.4,306.0 L195.0,305.0 L197.0,315.0 L199.0,307.0 L201.0,309.0 L203.0,308.0 L205.0,314.0 L207.0,321.0 L208.4,319.0 L210.0,324.0 L211.4,331.0 L213.0,308.0 L214.4,311.0 L216.6,297.0 L218.6,304.0 L220.4,297.0 L222.4,303.0 L223.6,323.0 L225.6,305.0 L227.0,315.0 L228.6,308.0 L230.6,320.0 L232.6,314.0 L234.6,319.0 L236.2,330.0 L238.0,327.0 L239.4,333.0 L240.6,320.0 L242.2,325.0 L244.0,333.0 L245.4,340.0 L246.6,343.0 L248.0,358.0 L249.4,369.6 L251.0,358.0 L252.4,366.0 L254.0,367.0 L255.4,354.0 L257.0,344.0 L259.0,343.0 L260.6,335.0 L262.0,337.0 L264.0,334.0 L266.0,334.0 L267.0,331.0 L268.6,335.0 L270.0,330.0 L271.0,329.0 L272.6,333.6 L274.0,330.0 L276.0,325.0 L278.0,323.0 L279.4,319.0 L280.6,308.0 L281.4,299.0 L283.0,293.0 L284.6,303.0 L286.0,303.0 L287.4,292.0 L289.0,292.0 L291.0,297.0 L293.0,298.4 L295.4,292.4 L297.4,297.0 L299.4,300.0 L301.0,310.0 L302.0,318.0 L303.4,308.0 L305.4,303.0 L306.6,300.0 L307.6,287.6 L308.6,296.0 L310.0,301.6 L311.4,294.0 L312.6,295.0 L314.0,289.0 L315.0,284.0 L316.6,289.0 L318.0,288.0 L319.0,283.0 L320.0,284.0 L321.0,280.0 L322.0,270.0 L323.0,262.0 L324.4,270.0 L326.6,280.0 L327.4,285.6 L328.8,280.4 L330.6,283.6 L333.0,285.6 L334.6,292.0 L336.4,299.5 L338.0,295.0 L339.6,296.0 L341.0,293.0 L343.0,293.0 L345.0,290.0 L346.4,288.0 L348.2,280.6 L349.4,285.0 L350.6,288.0 L352.2,286.0 L354.0,291.6 L355.6,290.0 L357.0,291.0 L358.6,295.4 L360.0,296.4 L361.0,280.4 L362.0,264.0 L363.0,262.0 L364.4,263.0 L366.0,260.0 L367.4,262.0 L368.6,258.0 L370.6,257.4 L372.0,264.0 L374.4,272.4 L377.0,262.4 L379.0,262.0 L380.4,265.0 L382.4,272.0 L384.4,273.6 L386.4,275.6 L387.6,272.0 L388.6,262.0 L389.6,260.0 L390.6,249.4 L392.0,254.4 L393.4,252.0 L395.0,262.0 L396.6,271.0 L398.0,280.0 L399.0,281.6 L400.0,272.0 L401.0,272.4 L402.0,279.0 L403.0,284.4 L404.4,282.4 L405.6,283.6 L406.4,280.0 L407.6,268.4 L409.0,271.0 L410.0,268.4 L411.6,269.0 L413.0,267.0 L414.0,257.0 L415.6,253.6 L417.6,252.4 L418.6,249.0 L420.0,251.6 L422.0,244.4 L424.0,245.6 L426.0,244.4 L428.0,247.6 L430.0,247.0 L432.0,251.6 L434.0,254.0 L435.6,252.4 L437.6,248.0 L439.6,246.4 L442.0,247.8 L443.4,253.0 L445.4,255.6 L447.4,247.6 L449.4,247.0 L451.4,253.0 L453.0,253.0 L455.0,259.0 L456.6,263.0 L458.6,255.6 L460.0,262.4 L462.0,259.0 L465.4,257.0 L467.0,264.0 L468.4,269.0 L470.6,266.0 L472.6,264.0 L474.6,256.0 L476.6,253.6 L478.6,251.6 L480.6,259.0 L482.6,260.4 L484.0,256.4 L486.6,259.6 L489.4,260.0 L492.0,260.0 L494.4,253.6 L496.6,255.6 L499.0,244.4 L501.0,244.4 L503.0,247.0 L505.0,243.6 L506.4,249.0 L507.4,248.0 L509.4,252.0 L511.0,255.0 L513.0,255.0 L514.6,248.4 L516.6,253.0 L518.6,254.0 L519.4,259.0 L521.0,251.0 L523.0,258.0 L525.0,260.0 L526.6,265.6 L528.0,266.0 L529.4,270.0 L531.4,271.0 L532.6,274.4 L534.4,268.0 L535.4,266.4 L537.0,266.4 L539.4,257.0 L540.6,259.0 L543.0,256.0 L544.6,252.4 L547.0,250.4 L548.0,246.0 L549.0,249.6 L550.6,246.4 L551.6,248.4 L553.0,230.4 L555.0,233.0 L557.4,233.0 L558.8,235.4 L560.0,222.0 L561.4,205.0 L562.6,195.4 L566.0,192.4 L568.0,186.0 L569.6,190.0 L571.0,196.0 L573.0,197.6 L575.6,186.0 L577.6,195.0 L579.6,195.0 L580.6,197.6 L582.0,195.6 L584.0,194.0 L585.6,192.0 L587.0,194.0 L588.6,200.0 L590.6,203.0 L592.0,210.4 L593.4,206.0 L595.4,204.4 L597.0,201.0 L598.4,175.0 L599.0,173.6 L600.0,176.4 L601.4,171.0 L603.0,170.0 L604.6,174.4 L606.0,168.4 L607.4,160.0 L609.0,166.4 L610.6,155.0 L612.0,150.0 L613.4,147.6 L614.6,150.0 L615.4,156.0 L616.0,157.0" fill="none" stroke="#ea3943" stroke-width="2.3" stroke-linejoin="round" stroke-linecap="round" clip-path="url(#dn)"/>
<!-- bottom mini chart -->
<g stroke="#eff2f5" stroke-width="1" shape-rendering="crispEdges">
<line x1="5" y1="519.5" x2="616" y2="519.5"/>
<line x1="615.5" y1="519" x2="615.5" y2="539"/>
<line x1="23.5" y1="519" x2="23.5" y2="539"/>
<line x1="99.5" y1="519" x2="99.5" y2="539"/>
<line x1="174.5" y1="519" x2="174.5" y2="539"/>
<line x1="250.5" y1="519" x2="250.5" y2="539"/>
<line x1="326.5" y1="519" x2="326.5" y2="539"/>
<line x1="402.5" y1="519" x2="402.5" y2="539"/>
<line x1="477.5" y1="519" x2="477.5" y2="539"/>
<line x1="553.5" y1="519" x2="553.5" y2="539"/>
</g>
<path d="M276.5,539 L278.6,533 L280.5,539 Z M296,539 L298,531 L299.4,525.5 L302.4,522.7 L305.3,528.7 L309.8,531 L314.2,531.6 L318.7,536 L321,539 Z" fill="#eff2f5"/>
</svg>

<!-- price label on baseline -->
<div class="abs" style="left:8px;top:271.5px;width:45px;height:18px;background:#fff;border-radius:5px"></div>
<div class="ax" style="left:11.4px;top:275.3px;font-weight:700;font-size:11px;letter-spacing:0.6px">0.6458</div>

<!-- axis labels -->
<div class="abs" style="left:616px;top:142px;width:45px;height:26px;border-radius:4px;background:#16c784;color:#fff;font-weight:700;font-size:11.5px;line-height:26px;text-align:center;letter-spacing:0.2px">0.688</div>
<div class="ax" style="left:622px;top:174px">0.680</div>
<div class="ax" style="left:622px;top:232px">0.660</div>
<div class="ax" style="left:622px;top:290px">0.640</div>
<div class="ax" style="left:622px;top:348px">0.620</div>
<div class="ax" style="left:622px;top:406px">0.600</div>
<div class="ax" style="left:629px;top:454px;font-weight:700;letter-spacing:-0.2px">USD</div>

<div class="ax dt" style="left:50px;top:473px">21 Oct</div>
<div class="ax dt" style="left:136px;top:473px">22 Oct</div>
<div class="ax dt" style="left:223px;top:473px">23 Oct</div>
<div class="ax dt" style="left:310px;top:473px">24 Oct</div>
<div class="ax dt" style="left:397px;top:473px">25 Oct</div>
<div class="ax dt" style="left:483px;top:473px">26 Oct</div>
<div class="ax dt" style="left:570px;top:473px">27 Oct</div>

<!-- 27 badge -->
<svg class="abs" style="left:4px;top:488px" width="50" height="28" viewBox="0 0 50 28"><path d="M1,14 L6.4,7.2 Q9.8,2 14,2 H33.6 A12.4,12.4 0 0 1 33.6,26.8 H14 Q9.8,26.8 6.4,21.6 Z" fill="#a6b0c3"/>
<g fill="none" stroke="#fff" stroke-width="1.3" stroke-linecap="round" stroke-linejoin="round"><path d="M12.8,12 A4.9,4.9 0 1 1 12.5,15.4"/><path d="M11.4,10.4 L12.4,12.6 L14.6,11.8"/><path d="M17.3,10.8 V13.9 L19.6,15.2"/></g>
<text x="27.2" y="17.9" font-family="Liberation Sans, sans-serif" font-weight="700" font-size="10.8" fill="#fff" textLength="13.5" lengthAdjust="spacingAndGlyphs">27</text></svg>

<!-- analyze -->
<svg class="abs" style="left:526px;top:485px" width="94" height="32" viewBox="0 0 94 32"><path d="M44,6.2 L47.4,2.2 L50.8,6.2 Z" fill="#3861fb"/><rect x="4" y="6" width="86" height="24" rx="12" fill="#3861fb"/>
<g fill="none" stroke="#fff" stroke-width="1.25" stroke-linecap="round" stroke-linejoin="round"><path d="M12.2,24 V17.2 A5.95,5.95 0 0 1 24.1,16.9 C24.3,20.2 22.6,20.4 22.1,19 L20.5,16 L18.3,19.5 L16.9,15.7 L14.8,18.9"/><path d="M12.2,24 C15.5,23 17.5,24.7 22.6,22.3"/></g>
<text x="27.9" y="22.2" font-family="Liberation Sans, sans-serif" font-weight="700" font-size="11.4" fill="#fff" textLength="42" lengthAdjust="spacingAndGlyphs">Analyze</text>
<path d="M75.5,14.3 L79,18 L75.5,21.7" fill="none" stroke="#fff" stroke-width="1.5" stroke-linecap="round" stroke-linejoin="round"/></svg>

<!-- handle -->
<div class="abs" style="left:606.5px;top:530px;width:15px;height:15px;border-radius:8px;background:#fff;box-shadow:0 0 4px rgba(88,102,126,.35)"></div>
<div class="abs" style="left:612px;top:535px;width:1px;height:6px;background:#a6b0c3"></div>
<div class="abs" style="left:615px;top:535px;width:1px;height:6px;background:#a6b0c3"></div>
</body></html>
